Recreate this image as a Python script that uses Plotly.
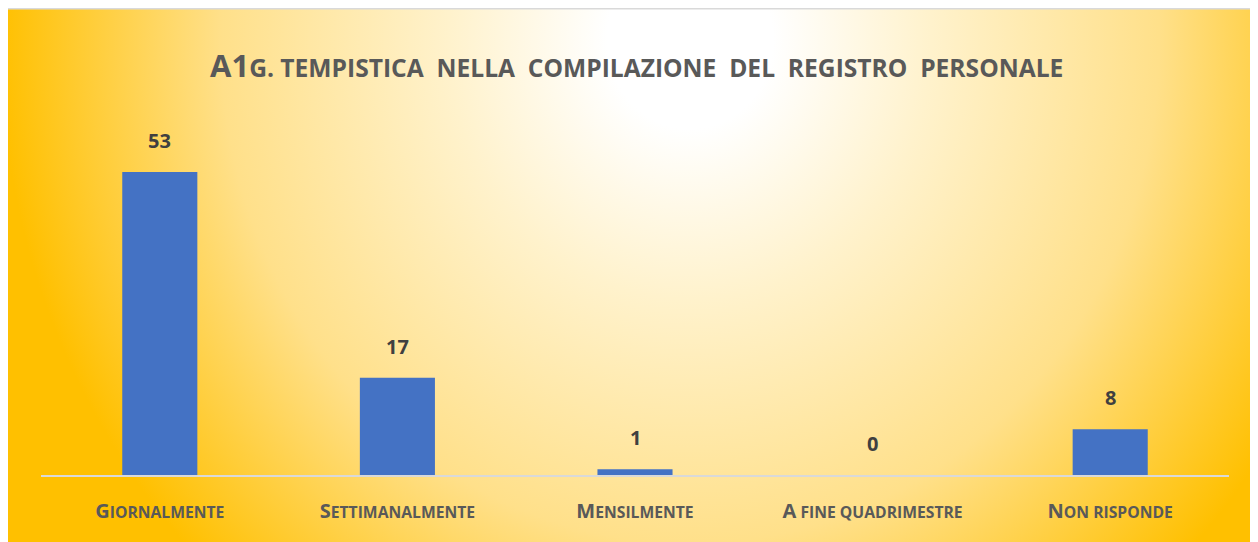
import base64
import plotly.graph_objects as go

categories = ["Giornalmente", "Settimanalmente", "Mensilmente", "A fine quadrimestre", "Non risponde"]
values = [53, 17, 1, 0, 8]
title_main = "A1"
title_rest = "g. Tempistica  nella  compilazione  del  registro  personale"

# the page body adds an 8px margin, so the figure is 8px smaller and shifted
W, H = 1250, 534
ML, MR, MT, MB = 33, 29, 124, 67
PW, PH = W - ML - MR, H - MT - MB

FONT = "Open Sans"
GREY = "#595959"


def small_caps(s, big, small):
    return (f"<b><span style='font-size:{big}px'>{s[0].upper()}</span>"
            f"<span style='font-size:{small}px'>{s[1:].upper()}</span></b>")


ticktext = [small_caps(c, 20, 15.7) for c in categories]
title_html = (f"<b><span style='font-size:31px'>{title_main}</span>"
              f"<span style='font-size:24.6px'>{title_rest.upper().replace('  ', ' &nbsp;')}</span></b>")

svg = f"""<svg xmlns='http://www.w3.org/2000/svg' width='{W}' height='{H}' viewBox='0 0 {W} {H}' preserveAspectRatio='none'>
<defs><radialGradient id='g' gradientUnits='userSpaceOnUse' cx='0' cy='0' r='1'
 gradientTransform='translate(682 32) scale(690 740)'>
<stop offset='0' stop-color='#FFFFFF'/>
<stop offset='0.12' stop-color='#FFFFFF'/>
<stop offset='0.35' stop-color='#FFF2CC'/>
<stop offset='0.68' stop-color='#FFE08A'/>
<stop offset='1' stop-color='#FFC000'/>
</radialGradient></defs>
<rect width='{W}' height='{H}' fill='url(#g)'/>
<rect x='0' y='0' width='{W}' height='1.5' fill='#D9D9D9'/>
</svg>"""
src = "data:image/svg+xml;base64," + base64.b64encode(svg.encode()).decode()

fig = go.Figure()
fig.add_trace(go.Bar(
    x=categories, y=values, marker=dict(color="#4472C4", line=dict(width=0)),
    width=0.316, hoverinfo="x+y",
))

for c, v in zip(categories, values):
    fig.add_annotation(x=c, y=v, text=f"<b>{v}</b>", showarrow=False,
                       yanchor="bottom", yshift=16,
                       font=dict(family=FONT, size=20, color="#404040"))

fig.add_annotation(xref="paper", yref="paper", x=(628 - ML) / PW, y=1 + (MT - 57) / PH,
                   text=title_html, showarrow=False, xanchor="center", yanchor="middle",
                   font=dict(family=FONT, color=GREY))

fig.add_layout_image(dict(
    source=src, xref="paper", yref="paper", x=-ML / PW, y=1 + MT / PH,
    sizex=W / PW, sizey=H / PH, xanchor="left", yanchor="top",
    sizing="stretch", layer="below",
))

fig.update_layout(
    width=W, height=H,
    margin=dict(l=ML, r=MR, t=MT, b=MB),
    paper_bgcolor="#FFFFFF", plot_bgcolor="rgba(0,0,0,0)",
    showlegend=False, bargap=0.684,
    font=dict(family=FONT, color=GREY),
)
fig.update_xaxes(
    tickmode="array", tickvals=categories, ticktext=ticktext,
    showline=True, linecolor="#D9D9D9", linewidth=2, showgrid=False,
    ticks="", tickfont=dict(family=FONT, color=GREY, size=15.7),
    ticklabelstandoff=22, zeroline=False,
)
fig.update_yaxes(range=[0, 60], visible=False, showgrid=False, zeroline=False)

fig.write_html("out.html")
